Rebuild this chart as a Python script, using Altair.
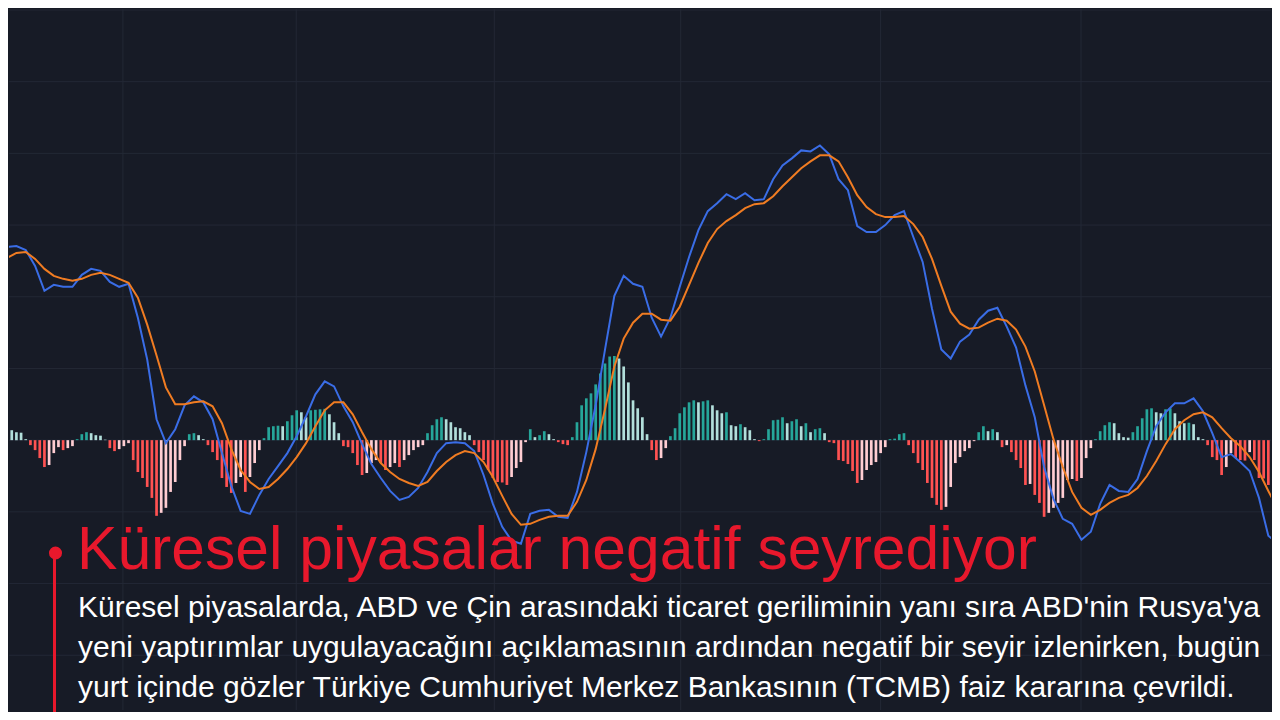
import altair as alt
import pandas as pd

# ---- histogram (MACD - signal), one value per bar ----
hist = [0.11, 0.10, 0.08, 0.075, 0.01, -0.05, -0.10, -0.18, -0.27, -0.25, -0.13, -0.07, -0.10, -0.08, -0.06,
        0.01, 0.06, 0.08, 0.07, 0.05, 0.045, 0.005, -0.08, -0.11, -0.09, -0.06, -0.03, -0.20, -0.32, -0.38,
        -0.47, -0.58, -0.76, -0.73, -0.68, -0.52, -0.42, -0.20, -0.06, 0.06, 0.07, 0.05, 0.01, -0.05, -0.12, -0.20,
        -0.38, -0.47, -0.53, -0.43, -0.37, -0.52, -0.37, -0.23, -0.10, 0.02, 0.13, 0.14, 0.145, 0.14, 0.19,
        0.25, 0.30, 0.28, 0.23, 0.30, 0.305, 0.31, 0.315, 0.26, 0.18, 0.07, -0.06, -0.07, -0.13, -0.25,
        -0.35, -0.33, -0.23, -0.20, -0.23, -0.30, -0.27, -0.23, -0.27, -0.20, -0.15, -0.10, -0.07, -0.05,
        0.07, 0.15, 0.21, 0.23, 0.21, 0.18, 0.13, 0.12, 0.08, 0.05, -0.05, -0.12, -0.20, -0.30, -0.38,
        -0.42, -0.425, -0.45, -0.37, -0.28, -0.22, -0.02, 0.11, 0.03, 0.05, 0.09, 0.06, 0.01, -0.02, -0.04,
        -0.05, 0.03, 0.18, 0.35, 0.42, 0.47, 0.56, 0.67, 0.77, 0.84, 0.845, 0.82, 0.74, 0.58, 0.40,
        0.32, 0.23, 0.06, -0.10, -0.20, -0.18, -0.08, 0.04, 0.12, 0.27, 0.33, 0.38, 0.40, 0.38, 0.39,
        0.40, 0.35, 0.30, 0.27, 0.28, 0.15, 0.14, 0.16, 0.13, 0.10, 0.01, -0.01, 0.01, 0.11, 0.20,
        0.205, 0.23, 0.17, 0.19, 0.21, 0.14, 0.17, 0.08, 0.11, 0.12, 0.07, -0.02, -0.03, -0.20,
        -0.21, -0.24, -0.31, -0.43, -0.40, -0.30, -0.25, -0.22, -0.13, -0.07, 0.01, 0.015, 0.06, 0.07, -0.05,
        -0.13, -0.23, -0.30, -0.43, -0.58, -0.65, -0.70, -0.67, -0.47, -0.23, -0.17, -0.11, -0.08, -0.01, 0.08,
        0.14, 0.09, 0.11, 0.08, -0.07, -0.05, -0.12, -0.20, -0.28, -0.45, -0.44, -0.55, -0.63, -0.77, -0.73,
        -0.68, -0.63,
        -0.58, -0.40, -0.39, -0.41, -0.38, -0.18, -0.08, 0.01, 0.09, 0.15, 0.18, 0.17, 0.07, 0.03, 0.025,
        0.08, 0.14, 0.22, 0.31, 0.32, 0.28, 0.27, 0.31, 0.32, 0.27, 0.19, 0.17, 0.175, 0.16, 0.03,
        0.01, -0.05, -0.17, -0.20, -0.35, -0.27, -0.13, -0.18, -0.20, -0.205, -0.12, -0.20, -0.38, -0.385, -0.45,
        -0.47]

# ---- MACD and signal lines, one value every second bar ----
macd = [1.94, 1.95, 1.91, 1.75, 1.50, 1.56, 1.54, 1.54, 1.66, 1.72, 1.70, 1.59, 1.54, 1.57, 1.23, 0.81,
        0.21, -0.03, 0.11, 0.35, 0.44, 0.38, 0.21, -0.13, -0.46, -0.71, -0.74, -0.55, -0.39, -0.26, -0.13,
        0.04, 0.24, 0.46, 0.59, 0.54, 0.34, 0.18, -0.04, -0.24, -0.38, -0.51, -0.60, -0.57, -0.48, -0.32,
        -0.13, -0.03, -0.02, -0.03, -0.11, -0.35, -0.64, -0.87, -1.01, -1.04, -0.74, -0.71, -0.70, -0.77,
        -0.78, -0.52, -0.12, 0.35, 0.91, 1.45, 1.65, 1.57, 1.54, 1.23, 1.04, 1.23, 1.54, 1.84, 2.11, 2.30,
        2.38, 2.47, 2.42, 2.48, 2.41, 2.42, 2.62, 2.76, 2.83, 2.91, 2.90, 2.96, 2.87, 2.62, 2.51, 2.15,
        2.09, 2.09, 2.16, 2.26, 2.30, 2.04, 1.79, 1.32, 0.91, 0.82, 0.99, 1.06, 1.21, 1.30, 1.33, 1.14,
        0.93, 0.55, 0.23, -0.27, -0.59, -0.79, -0.84, -1.00, -0.92, -0.64, -0.45, -0.51, -0.52, -0.39,
        -0.11, 0.14, 0.28, 0.37, 0.37, 0.42, 0.29, 0.07, -0.17, -0.14, -0.22, -0.31, -0.58, -0.96, -1.04]

signal = [1.83, 1.88, 1.89, 1.82, 1.72, 1.65, 1.62, 1.60, 1.62, 1.66, 1.68, 1.66, 1.62, 1.58, 1.43, 1.16,
          0.85, 0.53, 0.36, 0.36, 0.38, 0.39, 0.34, 0.17, -0.09, -0.30, -0.42, -0.49, -0.47, -0.39, -0.29,
          -0.17, -0.03, 0.14, 0.30, 0.38, 0.38, 0.26, 0.08, -0.09, -0.23, -0.32, -0.39, -0.43, -0.46, -0.42,
          -0.31, -0.22, -0.15, -0.11, -0.13, -0.22, -0.37, -0.56, -0.74, -0.85, -0.84, -0.80, -0.77, -0.76,
          -0.76, -0.62, -0.40, -0.09, 0.31, 0.74, 1.02, 1.18, 1.27, 1.27, 1.21, 1.20, 1.34, 1.56, 1.78, 1.98,
          2.12, 2.20, 2.26, 2.33, 2.37, 2.38, 2.45, 2.55, 2.64, 2.73, 2.80, 2.86, 2.86, 2.80, 2.64, 2.46,
          2.34, 2.27, 2.24, 2.24, 2.25, 2.17, 2.04, 1.82, 1.55, 1.29, 1.17, 1.12, 1.13, 1.18, 1.22, 1.20,
          1.11, 0.94, 0.69, 0.35, 0.01, -0.27, -0.52, -0.68, -0.75, -0.70, -0.63, -0.58, -0.55, -0.48,
          -0.36, -0.21, -0.04, 0.11, 0.20, 0.26, 0.28, 0.23, 0.12, 0.02, -0.06, -0.17, -0.32, -0.51, -0.69]

grid_x = [24.8, 61.9, 104.3, 144.2, 187.0, 229.9]
grid_y = [4.32, 3.60, 2.88, 2.16, 1.44, 0.72, 0.0, -0.72, -1.44, -2.16]

title_text = "Küresel piyasalar negatif seyrediyor"
body_lines = [
    "Küresel piyasalarda, ABD ve Çin arasındaki ticaret geriliminin yanı sıra ABD'nin Rusya'ya",
    "yeni yaptırımlar uygulayacağını açıklamasının ardından negatif bir seyir izlenirken, bugün",
    "yurt içinde gözler Türkiye Cumhuriyet Merkez Bankasının (TCMB) faiz kararına çevrildi.",
]

BG = "#171b26"
GRID = "#232835"
RED = "#e8182c"

# ---- tables ----
df_h = pd.DataFrame({"i": list(range(len(hist))), "v": hist})
prev = df_h["v"].shift(1).fillna(df_h["v"].iloc[0] + 1)
cats = []
for v, p in zip(df_h["v"], prev):
    if v >= 0:
        cats.append("pos_up" if v >= p else "pos_down")
    else:
        cats.append("neg_down" if v < p else "neg_up")
df_h["c"] = cats

df_l = pd.DataFrame({"i": [2 * k for k in range(len(macd))], "macd": macd, "signal": signal})

xscale = alt.Scale(domain=[1.484, 269.5], nice=False, zero=False)
yscale = alt.Scale(domain=[-2.71, 4.33], nice=False, zero=False)

vgrid = alt.Chart(pd.DataFrame({"gx": grid_x})).mark_rule(color=GRID, strokeWidth=1).encode(
    x=alt.X("gx:Q", scale=xscale, axis=None))
hgrid = alt.Chart(pd.DataFrame({"gy": grid_y})).mark_rule(color=GRID, strokeWidth=1).encode(
    y=alt.Y("gy:Q", scale=yscale, axis=None))

bars = alt.Chart(df_h).mark_bar(size=2.7, clip=True).encode(
    x=alt.X("i:Q", scale=xscale, axis=None),
    y=alt.Y("v:Q", scale=yscale, axis=None),
    y2=alt.datum(0),
    color=alt.Color("c:N", legend=None, scale=alt.Scale(
        domain=["pos_up", "pos_down", "neg_down", "neg_up"],
        range=["#26a69a", "#b2dfdb", "#ff5252", "#ffcdd2"])),
)

macd_line = alt.Chart(df_l).mark_line(color="#3a6de6", strokeWidth=2, clip=True).encode(
    x=alt.X("i:Q", scale=xscale, axis=None),
    y=alt.Y("macd:Q", scale=yscale, axis=None),
)
signal_line = alt.Chart(df_l).mark_line(color="#f07c22", strokeWidth=2, clip=True).encode(
    x=alt.X("i:Q", scale=xscale, axis=None),
    y=alt.Y("signal:Q", scale=yscale, axis=None),
)

stem = alt.Chart(pd.DataFrame({"a": [0]})).mark_rule(color=RED, strokeWidth=3).encode(
    x=alt.value(45.5), y=alt.value(546), y2=alt.value(704))
dot = alt.Chart(pd.DataFrame({"a": [0]})).mark_point(
    shape="circle", filled=True, color=RED, opacity=1, size=170, strokeWidth=0).encode(
    x=alt.value(46.5), y=alt.value(544))

title_mark = alt.Chart(pd.DataFrame({"t": [title_text]})).mark_text(
    align="left", baseline="alphabetic", font="Liberation Sans", fontSize=60.6, color=RED).encode(
    x=alt.value(68), y=alt.value(560), text="t:N")

body_mark = alt.Chart(pd.DataFrame({"t": ["\n".join(body_lines)]})).mark_text(
    align="left", baseline="alphabetic", font="Liberation Sans", fontSize=30, color="#ffffff",
    lineBreak="\n", lineHeight=40).encode(
    x=alt.value(69), y=alt.value(608), text="t:N")

chart = alt.layer(vgrid, hgrid, bars, macd_line, signal_line, stem, dot, title_mark, body_mark).properties(
    width=1264, height=704,
    autosize=alt.AutoSizeParams(type="fit", contains="padding"),
    padding=0,
    background=BG,
).configure_view(strokeWidth=0, fill=BG)

chart.save("out.html", embed_options={"renderer": "svg", "actions": False})
